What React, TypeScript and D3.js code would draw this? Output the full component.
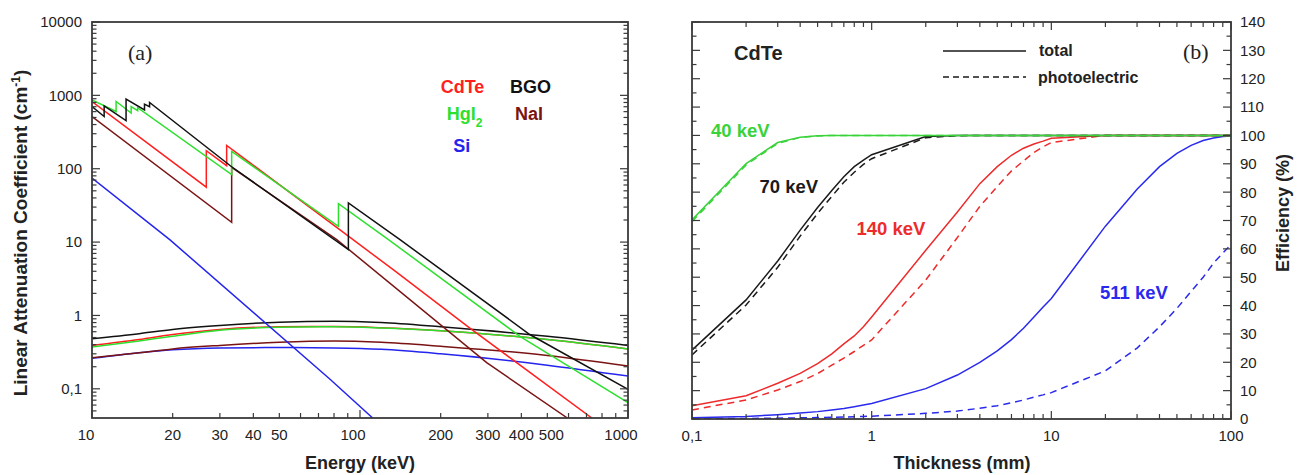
import React from 'react';
import * as d3 from 'd3';

const W = 1308;
const H = 475;
const SANS = "'Liberation Sans', Arial, Helvetica, sans-serif";
const SERIF = "'Liberation Serif', 'Times New Roman', serif";

// ---------- Panel (a): linear attenuation coefficient vs energy ----------
const cdtePhotoE = [10, 26.7, 26.7, 31.8, 31.8, 84, 133, 257, 733];
const cdtePhotoMu = [824, 56, 176, 110, 208, 14.8, 4.2, 0.67, 0.04];

const hgi2PhotoE = [10, 12.3, 12.3, 14.0, 14.0, 14.8, 14.8, 33.2, 33.2, 83.1, 83.1, 127.7, 395, 1000];
const hgi2PhotoMu = [869, 603, 824, 573, 705, 621, 680, 83, 172, 16.4, 33.4, 10.8, 0.52, 0.065];

const bgoPhotoE = [10, 11.1, 11.1, 13.4, 13.4, 15.7, 15.7, 16.4, 16.4, 33, 90.5, 90.5, 141, 430, 1000];
const bgoPhotoMu = [705, 515, 720, 454, 888, 635, 759, 700, 800, 108, 7.9, 34.1, 10.8, 0.55, 0.098];

const naiPhotoE = [10, 33.2, 33.2, 81.9, 297, 594];
const naiPhotoMu = [515, 18.6, 104, 10.8, 0.227, 0.04];

const siPhotoE = [10, 19.5, 77.3, 111.5];
const siPhotoMu = [74.7, 10.8, 0.135, 0.04];

const comptonE = [10, 15, 20, 30, 50, 80, 120, 200, 500, 1000];
const bgoCompton = [0.482, 0.565, 0.645, 0.73, 0.81, 0.835, 0.8, 0.7, 0.52, 0.39];
const cdteCompton = [0.39, 0.47, 0.55, 0.645, 0.7, 0.705, 0.68, 0.62, 0.47, 0.35];
const hgi2Compton = [0.37, 0.45, 0.52, 0.63, 0.69, 0.7, 0.675, 0.62, 0.47, 0.35];
const naiCompton = [0.266, 0.31, 0.35, 0.39, 0.43, 0.447, 0.43, 0.38, 0.285, 0.204];
const siCompton = [0.26, 0.31, 0.34, 0.36, 0.365, 0.36, 0.345, 0.3, 0.21, 0.149];

const xATicks = [10, 20, 30, 40, 50, 100, 200, 300, 400, 500, 1000];
const xATickLabels = ['10', '20', '30', '40', '50', '100', '200', '300', '400', '500', '1000'];
const yATicks = [0.1, 1, 10, 100, 1000, 10000];
const yATickLabels = ['0,1', '1', '10', '100', '1000', '10000'];

// ---------- Panel (b): efficiency vs thickness (CdTe) ----------
const thickness = [0.1, 0.2, 0.3, 0.4, 0.5, 0.6, 0.7, 0.8, 0.9, 1, 2, 3, 4, 5, 6, 7, 8, 9, 10, 20, 30, 40, 50, 60, 70, 80, 90, 100];
const eff40Total = [70.2, 90.1, 97.5, 99.4, 99.9, 100, 100, 100, 100, 100, 100, 100, 100, 100, 100, 100, 100, 100, 100, 100, 100, 100, 100, 100, 100, 100, 100, 100];
const eff40Photo = [69.6, 89.6, 97.2, 99.3, 99.8, 100, 100, 100, 100, 100, 100, 100, 100, 100, 100, 100, 100, 100, 100, 100, 100, 100, 100, 100, 100, 100, 100, 100];
const eff70Total = [24.3, 42, 55.7, 66.6, 74.6, 80.6, 85.4, 89, 91.3, 93.2, 99.6, 100, 100, 100, 100, 100, 100, 100, 100, 100, 100, 100, 100, 100, 100, 100, 100, 100];
const eff70Photo = [22.6, 40.2, 53.5, 64.5, 72.5, 78.5, 83.5, 87, 89.8, 91.8, 99.2, 99.9, 100, 100, 100, 100, 100, 100, 100, 100, 100, 100, 100, 100, 100, 100, 100, 100];
const eff140Total = [4.7, 8.2, 12.6, 16.1, 19.5, 23, 26.5, 29.3, 32.5, 36, 59.5, 73, 83, 89, 93, 95.5, 97, 98, 99, 100, 100, 100, 100, 100, 100, 100, 100, 100];
const eff140Photo = [3.2, 6.7, 10.2, 13.2, 16, 19, 21.5, 23.8, 26, 27.9, 49, 64, 75, 82, 87.5, 91, 94, 96, 97.5, 100, 100, 100, 100, 100, 100, 100, 100, 100];
const eff511Total = [0.4, 0.9, 1.5, 2.1, 2.6, 3.2, 3.7, 4.3, 4.9, 5.5, 10.7, 15.5, 20, 24, 28, 32, 36, 39.5, 42.5, 68, 81, 89, 93.7, 96.5, 98.2, 99.1, 99.6, 99.8];
const eff511Photo = [0.1, 0.2, 0.3, 0.4, 0.5, 0.6, 0.7, 0.8, 0.9, 1.0, 2.0, 2.8, 3.8, 4.7, 5.7, 6.7, 7.7, 8.5, 9.3, 17, 25, 32.5, 39, 45, 50, 55, 58.5, 61.5];

const xBTicks = [0.1, 1, 10, 100];
const xBTickLabels = ['0,1', '1', '10', '100'];
const yBTicks = [0, 10, 20, 30, 40, 50, 60, 70, 80, 90, 100, 110, 120, 130, 140];

// colours
const RED = '#ff1f1f';
const GREEN = '#2ee02e';
const BLACK = '#111111';
const BROWN = '#7a1414';
const BLUE = '#2424ee';
const AXIS = '#3a3a3a';
const TXT = '#222222';

function logMinor(lo: number, hi: number): number[] {
  const out: number[] = [];
  for (let e = Math.floor(Math.log10(lo)); e < Math.ceil(Math.log10(hi)); e++) {
    const dec = Math.pow(10, e);
    for (let k = 2; k <= 9; k++) {
      const v = +(k * dec).toPrecision(6);
      if (v > lo * 1.0001 && v < hi * 0.9999) out.push(v);
    }
  }
  return out;
}

function PanelA() {
  const L = 92, R = 628, T = 22, B = 418;
  const x = d3.scaleLog().domain([10, 1000]).range([L, R]);
  const y = d3.scaleLog().domain([0.04, 10000]).range([B, T]);
  const lin = d3.line<[number, number]>().x((d) => x(d[0])).y((d) => y(d[1]));
  const smooth = d3.line<[number, number]>().x((d) => x(d[0])).y((d) => y(d[1])).curve(d3.curveMonotoneX);
  const z = (a: number[], b: number[]) => d3.zip(a, b) as [number, number][];

  const compton = [
    { v: siCompton, c: BLUE },
    { v: naiCompton, c: BROWN },
    { v: cdteCompton, c: RED },
    { v: hgi2Compton, c: GREEN },
    { v: bgoCompton, c: BLACK },
  ];
  const photo = [
    { e: siPhotoE, v: siPhotoMu, c: BLUE },
    { e: naiPhotoE, v: naiPhotoMu, c: BROWN },
    { e: cdtePhotoE, v: cdtePhotoMu, c: RED },
    { e: hgi2PhotoE, v: hgi2PhotoMu, c: GREEN },
    { e: bgoPhotoE, v: bgoPhotoMu, c: BLACK },
  ];
  const yMinor = logMinor(0.04, 10000);
  const nudge: Record<number, number> = { 10: -6, 100: -7, 500: 4, 1000: -7 };

  return (
    <g>
      <defs>
        <clipPath id="clipA">
          <rect x={L} y={T} width={R - L} height={B - T} />
        </clipPath>
      </defs>
      <g clipPath="url(#clipA)" fill="none" strokeWidth={1.5}>
        {compton.map((s, i) => (
          <path key={'c' + i} d={smooth(z(comptonE, s.v)) || ''} stroke={s.c} />
        ))}
        {photo.map((s, i) => (
          <path key={'p' + i} d={lin(z(s.e, s.v)) || ''} stroke={s.c} strokeLinejoin="miter" />
        ))}
      </g>
      {/* ticks */}
      <g stroke={AXIS} strokeWidth={1.2}>
        {yATicks.map((v) => (
          <g key={'ym' + v}>
            <line x1={L} x2={L + 8} y1={y(v)} y2={y(v)} />
            <line x1={R} x2={R - 8} y1={y(v)} y2={y(v)} />
          </g>
        ))}
        {yMinor.map((v) => (
          <g key={'yn' + v}>
            <line x1={L} x2={L + 4.5} y1={y(v)} y2={y(v)} />
            <line x1={R} x2={R - 4.5} y1={y(v)} y2={y(v)} />
          </g>
        ))}
        {[10, 100, 1000].map((v) => (
          <line key={'xm' + v} x1={x(v)} x2={x(v)} y1={B} y2={B - 8} />
        ))}
        {logMinor(10, 1000).map((v) => (
          <line key={'xn' + v} x1={x(v)} x2={x(v)} y1={B} y2={B - 5} />
        ))}
      </g>
      <rect x={L} y={T} width={R - L} height={B - T} fill="none" stroke={AXIS} strokeWidth={1.8} />
      {/* tick labels */}
      <g fontFamily={SANS} fontSize={15} fill={TXT}>
        {yATicks.map((v, i) => (
          <text key={'yl' + v} x={L - 10} y={y(v)} dy="0.36em" textAnchor="end">
            {yATickLabels[i]}
          </text>
        ))}
        {xATicks.map((v, i) => (
          <text key={'xl' + v} x={x(v) + (nudge[v] || 0)} y={440} textAnchor="middle">
            {xATickLabels[i]}
          </text>
        ))}
      </g>
      {/* titles */}
      <text x={360} y={469} textAnchor="middle" fontFamily={SANS} fontWeight="bold" fontSize={18} fill={TXT}>
        Energy (keV)
      </text>
      <text transform="translate(27,233) rotate(-90)" textAnchor="middle" fontFamily={SANS} fontWeight="bold" fontSize={19} fill={TXT}>
        Linear Attenuation Coefficient (cm<tspan dy={-7} fontSize={12}>-1</tspan>
        <tspan dy={7}>)</tspan>
      </text>
      <text x={128} y={60} fontFamily={SERIF} fontSize={22} fill={TXT}>
        (a)
      </text>
      {/* legend */}
      <g fontFamily={SANS} fontWeight="bold" fontSize={18}>
        <text x={440.7} y={92.5} fill={RED}>CdTe</text>
        <text x={510} y={92.5} fill={BLACK}>BGO</text>
        <text x={446.7} y={120} fill={GREEN}>
          HgI<tspan dy={7} fontSize={12}>2</tspan>
        </text>
        <text x={515} y={120} fill={BROWN}>NaI</text>
        <text x={453.3} y={151.5} fill={BLUE}>Si</text>
      </g>
    </g>
  );
}

function PanelB() {
  const L = 692, R = 1231, T = 22, B = 419;
  const x = d3.scaleLog().domain([0.1, 100]).range([L, R]);
  const y = d3.scaleLinear().domain([0, 140]).range([B, T]);
  const lin = d3.line<[number, number]>().x((d) => x(d[0])).y((d) => y(d[1]));
  const z = (b: number[]) => d3.zip(thickness, b) as [number, number][];
  const BG = '#3ad23a';
  const BR = '#ee2b2b';
  const BB = '#2a2aee';
  const BK = '#1a1a1a';
  const series = [
    { v: eff511Photo, c: BB, dash: true },
    { v: eff511Total, c: BB, dash: false },
    { v: eff140Photo, c: BR, dash: true },
    { v: eff140Total, c: BR, dash: false },
    { v: eff70Photo, c: BK, dash: true },
    { v: eff70Total, c: BK, dash: false },
    { v: eff40Photo, c: BG, dash: true },
    { v: eff40Total, c: BG, dash: false },
  ];
  const xMinor = logMinor(0.1, 100);
  const yMinor = d3.range(5, 140, 10);

  return (
    <g>
      <defs>
        <clipPath id="clipB">
          <rect x={L} y={T} width={R - L} height={B - T} />
        </clipPath>
      </defs>
      <g clipPath="url(#clipB)" fill="none" strokeWidth={1.5}>
        {series.map((s, i) => (
          <path key={i} d={lin(z(s.v)) || ''} stroke={s.c} strokeDasharray={s.dash ? '7,5' : undefined} />
        ))}
      </g>
      <g stroke={AXIS} strokeWidth={1.2}>
        {xBTicks.map((v) => (
          <g key={'xm' + v}>
            <line x1={x(v)} x2={x(v)} y1={B} y2={B - 8} />
            <line x1={x(v)} x2={x(v)} y1={T} y2={T + 8} />
          </g>
        ))}
        {xMinor.map((v) => (
          <g key={'xn' + v}>
            <line x1={x(v)} x2={x(v)} y1={B} y2={B - 5} />
            <line x1={x(v)} x2={x(v)} y1={T} y2={T + 5} />
          </g>
        ))}
        {yBTicks.map((v) => (
          <g key={'ym' + v}>
            <line x1={L} x2={L + 8} y1={y(v)} y2={y(v)} />
            <line x1={R} x2={R - 8} y1={y(v)} y2={y(v)} />
          </g>
        ))}
        {yMinor.map((v) => (
          <g key={'yn' + v}>
            <line x1={L} x2={L + 4.5} y1={y(v)} y2={y(v)} />
            <line x1={R} x2={R - 4.5} y1={y(v)} y2={y(v)} />
          </g>
        ))}
      </g>
      <rect x={L} y={T} width={R - L} height={B - T} fill="none" stroke={AXIS} strokeWidth={1.8} />
      <g fontFamily={SANS} fontSize={15} fill={TXT}>
        {xBTicks.map((v, i) => (
          <text key={'xl' + v} x={x(v)} y={441} textAnchor="middle">
            {xBTickLabels[i]}
          </text>
        ))}
        {yBTicks.map((v) => (
          <text key={'yl' + v} x={R + 9} y={y(v)} dy="0.36em" textAnchor="start">
            {String(v)}
          </text>
        ))}
      </g>
      <text x={962} y={469} textAnchor="middle" fontFamily={SANS} fontWeight="bold" fontSize={18} fill={TXT}>
        Thickness (mm)
      </text>
      <text transform="translate(1289,213) rotate(-90)" textAnchor="middle" fontFamily={SANS} fontWeight="bold" fontSize={18} fill={TXT}>
        Efficiency (%)
      </text>
      <text x={1183} y={59} fontFamily={SERIF} fontSize={22} fill={TXT}>
        (b)
      </text>
      <text x={734} y={60} fontFamily={SANS} fontWeight="bold" fontSize={20} fill={TXT}>
        CdTe
      </text>
      {/* legend */}
      <line x1={943} x2={1026} y1={51} y2={51} stroke={BK} strokeWidth={1.5} />
      <line x1={943} x2={1026} y1={77} y2={77} stroke={BK} strokeWidth={1.5} strokeDasharray="6,4" />
      <g fontFamily={SANS} fontWeight="bold" fontSize={16} fill={TXT}>
        <text x={1039} y={55.5}>total</text>
        <text x={1038} y={83}>photoelectric</text>
      </g>
      <g fontFamily={SANS} fontWeight="bold" fontSize={18.5}>
        <text x={711} y={137} fill={BG}>40 keV</text>
        <text x={759.5} y={193} fill={BK}>70 keV</text>
        <text x={856.5} y={235} fill={BR}>140 keV</text>
        <text x={1100} y={298.5} fill={BB}>511 keV</text>
      </g>
    </g>
  );
}

export default function App() {
  return (
    <svg
      width={W}
      height={H}
      viewBox={`0 0 ${W} ${H}`}
      style={{ position: 'absolute', left: 0, top: 0, background: '#ffffff' }}
    >
      <rect width={W} height={H} fill="#ffffff" />
      <PanelA />
      <PanelB />
    </svg>
  );
}
